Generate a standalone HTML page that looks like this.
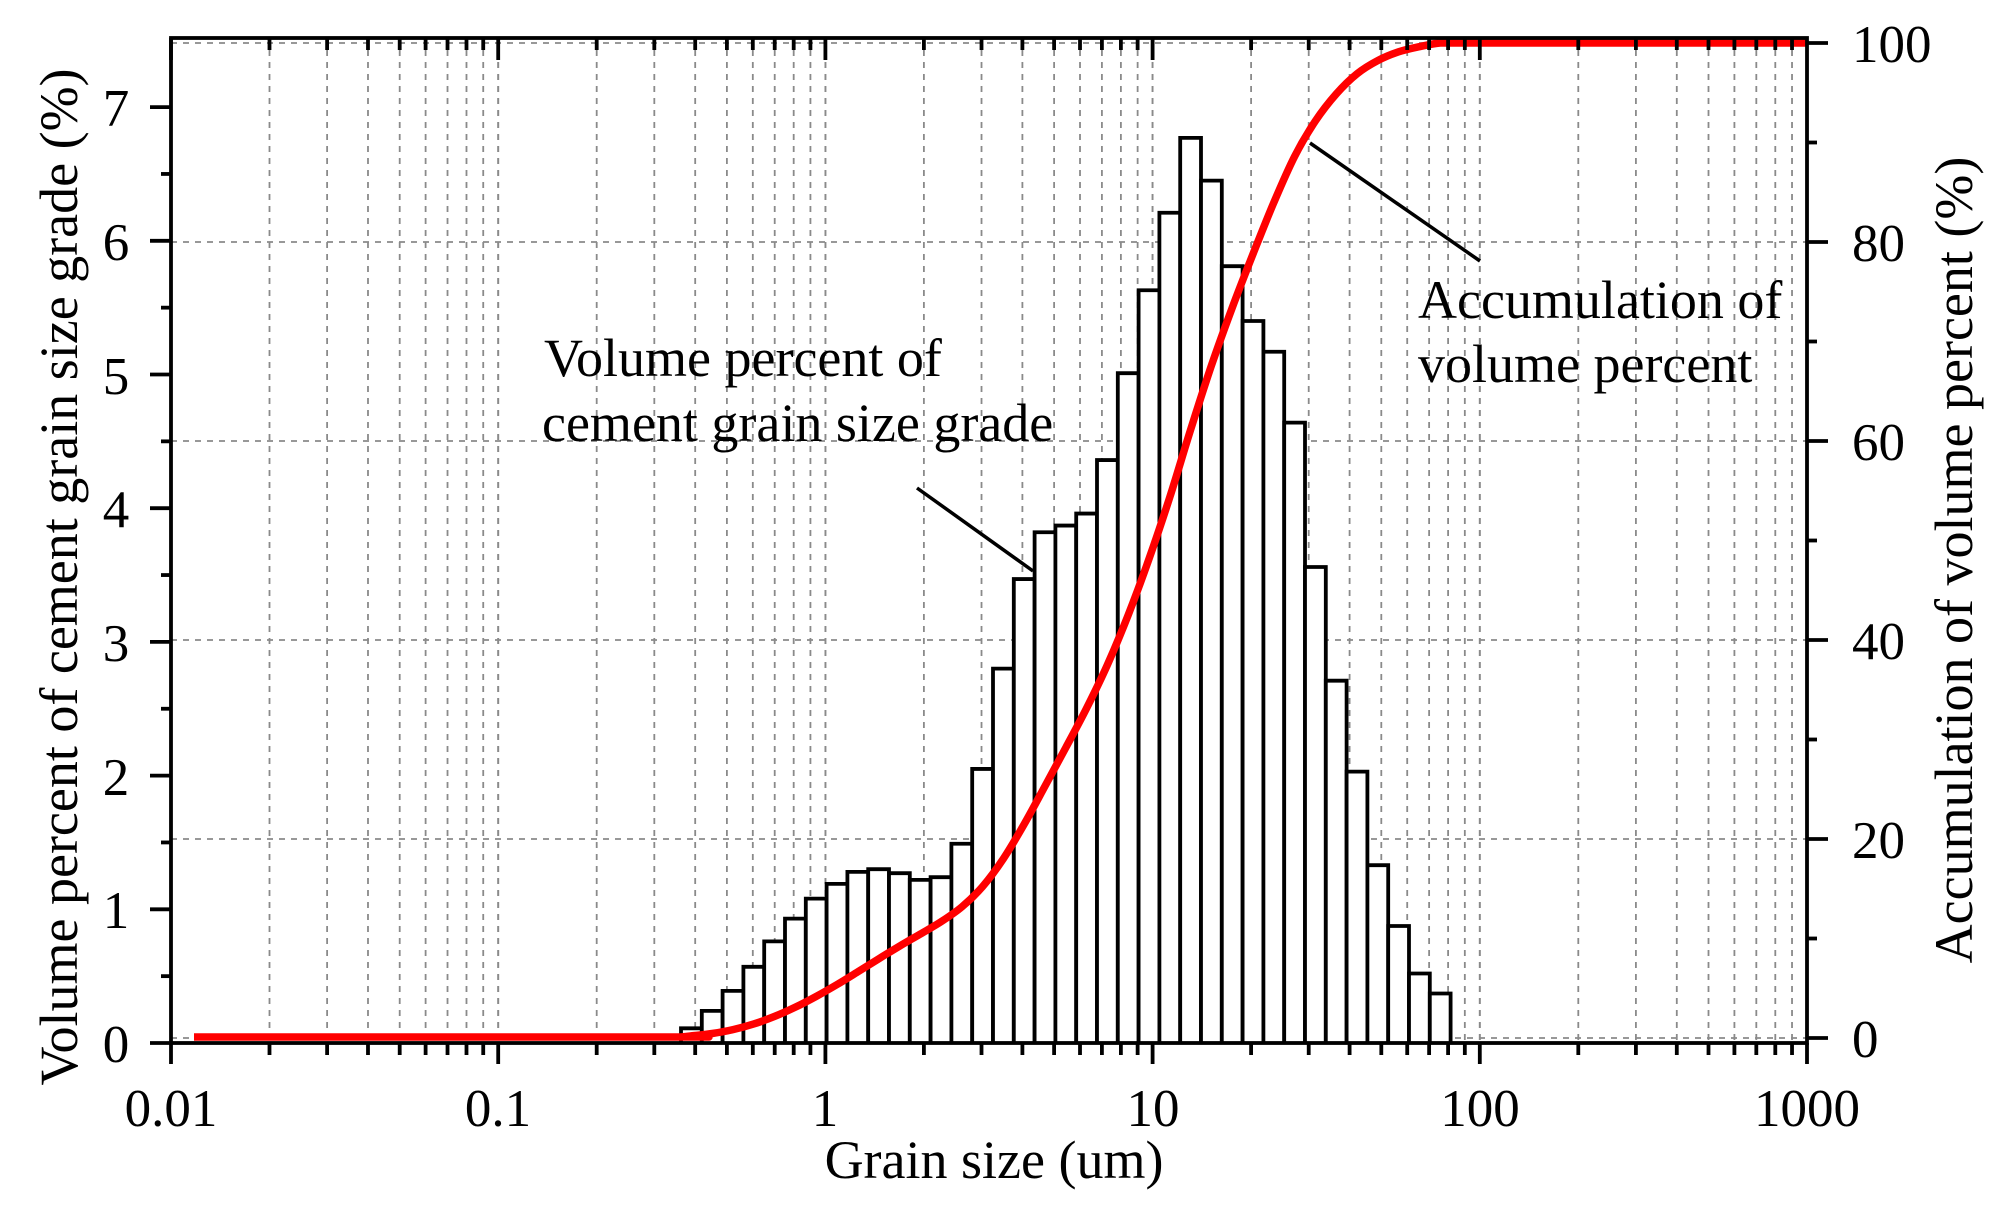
<!DOCTYPE html>
<html><head><meta charset="utf-8"><style>
html,body{margin:0;padding:0;background:#fff;}
svg{display:block;}
text{font-family:"Liberation Serif",serif;fill:#000;}
</style></head><body>
<svg id="s" width="2001" height="1206" viewBox="0 0 2001 1206" xmlns="http://www.w3.org/2000/svg">
<rect width="2001" height="1206" fill="#fff"/>
<g id="grid" stroke="#8a8a8a" stroke-width="1.8" stroke-dasharray="6,6" fill="none"></g>
<g id="bars" stroke="#000" stroke-width="3.8" fill="#fff"></g>
<path id="curve" fill="none" stroke="#ff0000" stroke-width="7.5" stroke-linejoin="round"/>
<g id="axes" stroke="#000" stroke-width="3.8" fill="none"></g>
<line x1="1310" y1="143" x2="1480" y2="261" stroke="#000" stroke-width="3.5"/>
<line x1="917" y1="488" x2="1033" y2="571" stroke="#000" stroke-width="3.5"/>
<g font-size="53">
<text x="116" y="1062" text-anchor="middle">0</text>
<text x="116" y="928" text-anchor="middle">1</text>
<text x="116" y="795" text-anchor="middle">2</text>
<text x="116" y="661" text-anchor="middle">3</text>
<text x="116" y="527" text-anchor="middle">4</text>
<text x="116" y="394" text-anchor="middle">5</text>
<text x="116" y="260" text-anchor="middle">6</text>
<text x="116" y="126" text-anchor="middle">7</text>
<text x="171" y="1126" text-anchor="middle">0.01</text>
<text x="498" y="1126" text-anchor="middle">0.1</text>
<text x="825" y="1126" text-anchor="middle">1</text>
<text x="1153" y="1126" text-anchor="middle">10</text>
<text x="1480" y="1126" text-anchor="middle">100</text>
<text x="1807" y="1126" text-anchor="middle">1000</text>
<text x="1852" y="1057">0</text>
<text x="1852" y="858">20</text>
<text x="1852" y="659">40</text>
<text x="1852" y="460">60</text>
<text x="1852" y="261">80</text>
<text x="1852" y="62">100</text>
</g>
<g font-size="54">
<text x="994" y="1178" text-anchor="middle">Grain size (um)</text>
<text transform="translate(77,577) rotate(-90)" text-anchor="middle">Volume percent of cement grain size grade (%)</text>
<text transform="translate(1972,560) rotate(-90)" text-anchor="middle">Accumulation of volume percent (%)</text>
<text x="544" y="376">Volume percent of</text>
<text x="542" y="441">cement grain size grade</text>
<text x="1418" y="318">Accumulation of</text>
<text x="1418" y="382">volume percent</text>
</g>
</svg>
<script>
(function(){
var NS="http://www.w3.org/2000/svg";
var L=171,R=1807,T=38,B=1043,D=327.2;
function X(v){return L+D*Math.log10(v/0.01);}
function el(p,n,a){var e=document.createElementNS(NS,n);for(var k in a)e.setAttribute(k,a[k]);p.appendChild(e);return e;}
var g=document.getElementById('grid'),ax=document.getElementById('axes');
for(var e=-2;e<3;e++){for(var m=1;m<=10;m++){var v=m*Math.pow(10,e);var x=X(v);if(x<=L+1||x>=R-1)continue;el(g,'line',{x1:x,y1:T,x2:x,y2:B});}}
for(var p=0;p<=100;p+=20){var y=1038-9.95*p;el(g,'line',{x1:L,y1:y,x2:R,y2:y});}
var h=[0.11,0.24,0.39,0.57,0.76,0.93,1.08,1.19,1.28,1.30,1.27,1.22,1.24,1.49,2.05,2.80,3.47,3.82,3.87,3.96,4.36,5.01,5.63,6.21,6.77,6.45,5.81,5.40,5.17,4.64,3.56,2.71,2.03,1.33,0.875,0.52,0.37];
var w=20.8,x0=681,U=133.7,bg=document.getElementById('bars');
var tot=0;h.forEach(function(a){tot+=a;});
for(var i=0;i<h.length;i++){var y=B-h[i]*U;el(bg,'path',{d:'M'+(x0+i*w)+','+B+'V'+y+'H'+(x0+(i+1)*w)+'V'+B});}
var pts=[[194,1037],[x0-10,1037],[x0,1037]];var c=0;
for(var i=0;i<h.length;i++){c+=h[i];pts.push([x0+(i+0.5)*w,1037-994*c/tot]);}
pts.push([x0+h.length*w+12,43]);pts.push([1500,43]);pts.push([1807,43]);
var d='M'+pts[0][0]+','+pts[0][1];
for(var i=0;i<pts.length-1;i++){var p0=pts[Math.max(0,i-1)],p1=pts[i],p2=pts[i+1],p3=pts[Math.min(pts.length-1,i+2)];
var c1x=p1[0]+(p2[0]-p0[0])/6,c1y=p1[1]+(p2[1]-p0[1])/6,c2x=p2[0]-(p3[0]-p1[0])/6,c2y=p2[1]-(p3[1]-p1[1])/6;
c1y=Math.min(1037,Math.max(43,c1y));c2y=Math.min(1037,Math.max(43,c2y));
d+=' C'+c1x+','+c1y+' '+c2x+','+c2y+' '+p2[0]+','+p2[1];}
document.getElementById('curve').setAttribute('d',d);
el(ax,'rect',{x:L,y:T,width:R-L,height:B-T});
for(var e=-2;e<3;e++){for(var m=1;m<10;m++){var x=X(m*Math.pow(10,e));var mj=(m==1);
el(ax,'line',{x1:x,y1:B,x2:x,y2:B+(mj?21:12)});el(ax,'line',{x1:x,y1:T,x2:x,y2:T+(mj?22:12)});}}
el(ax,'line',{x1:R,y1:B,x2:R,y2:B+21});
for(var k=0;k<=14;k++){var y=B-k*0.5*U;if(y<T)break;el(ax,'line',{x1:L,y1:y,x2:L-(k%2?10:21),y2:y});}
for(var p=0;p<=100;p+=10){var y=1038-9.95*p;el(ax,'line',{x1:R,y1:y,x2:R+(p%20?10:21),y2:y});}
})();
</script>
</body></html>
